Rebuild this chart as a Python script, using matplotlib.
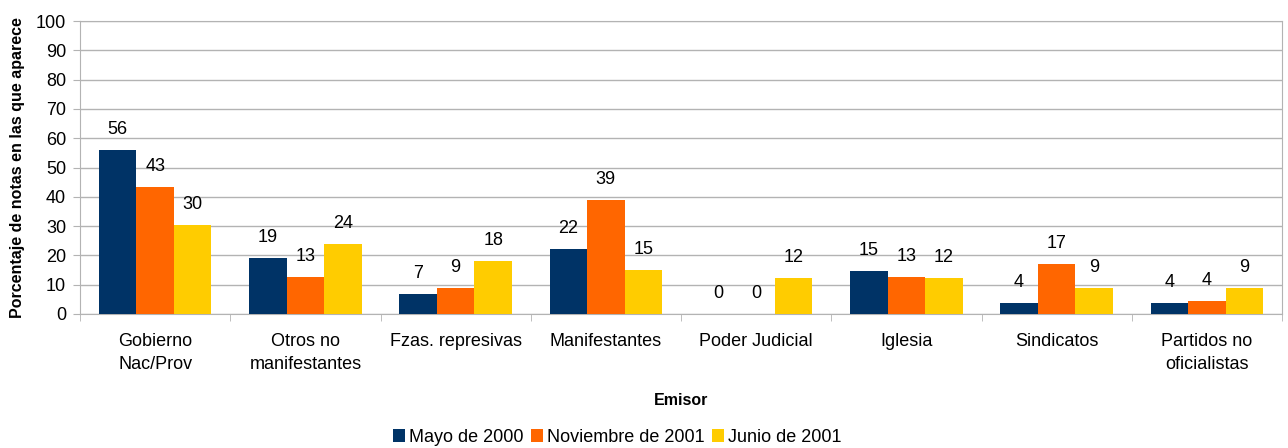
import numpy as np
import matplotlib.pyplot as plt

plt.rcParams['font.family'] = ['Liberation Sans', 'DejaVu Sans']

# datos
emisores = ["Gobierno\nNac/Prov", "Otros no\nmanifestantes", "Fzas. represivas",
            "Manifestantes", "Poder Judicial", "Iglesia", "Sindicatos",
            "Partidos no\noficialistas"]
mayo_2000 = [55.9, 19.1, 6.8, 22.2, 0, 14.7, 3.75, 3.75]
nov_2001 = [43.3, 12.6, 9.0, 38.9, 0, 12.6, 17.1, 4.4]
junio_2001 = [30.4, 23.9, 18.1, 15.0, 12.3, 12.3, 9.0, 9.0]
series = ["Mayo de 2000", "Noviembre de 2001", "Junio de 2001"]
colores = ["#003366", "#ff6600", "#ffcc00"]

fig = plt.figure(figsize=(12.88, 4.48), dpi=100)
ax = fig.add_axes([80/1288, 1-314/448, 1202/1288, 293/448])

x = np.arange(len(emisores))
w = 0.25
for i, (vals, nom, col) in enumerate(zip([mayo_2000, nov_2001, junio_2001], series, colores)):
    pos = x + (i-1)*w
    ax.bar(pos, vals, w, color=col, label=nom, zorder=3)
    for p, v in zip(pos, vals):
        ax.text(p, v + 4, "%d" % round(v), ha='center', va='bottom', fontsize=13)

ax.set_xlim(-0.5, len(emisores)-0.5)
ax.set_ylim(0, 100)
ax.set_yticks(range(0, 101, 10))
ax.yaxis.grid(True, color='#b3b3b3', lw=1, zorder=0)
ax.set_xticks(x)
ax.set_xticklabels(emisores, fontsize=13, linespacing=1.4)
ax.set_xticks(np.arange(-0.5, len(emisores)), minor=True)
ax.tick_params(axis='x', which='major', length=0, pad=14)
ax.tick_params(axis='x', which='minor', length=5, color='#b3b3b3')
ax.tick_params(axis='y', length=5, color='#b3b3b3', pad=5, labelsize=13)
for s in ax.spines.values():
    s.set_color('#b3b3b3')

ax.set_ylabel("Porcentaje de notas en las que aparece", fontsize=11.5, fontweight='bold', labelpad=8)
ax.set_xlabel("Emisor", fontsize=11.5, fontweight='bold', labelpad=15)

fig.legend(loc='center', bbox_to_anchor=(617/1288, 1-437/448), ncol=3, frameon=False,
           fontsize=13, handlelength=0.7, handleheight=0.7, handletextpad=0.2,
           columnspacing=0.4, borderpad=0)

plt.savefig("out.png", dpi=100)
